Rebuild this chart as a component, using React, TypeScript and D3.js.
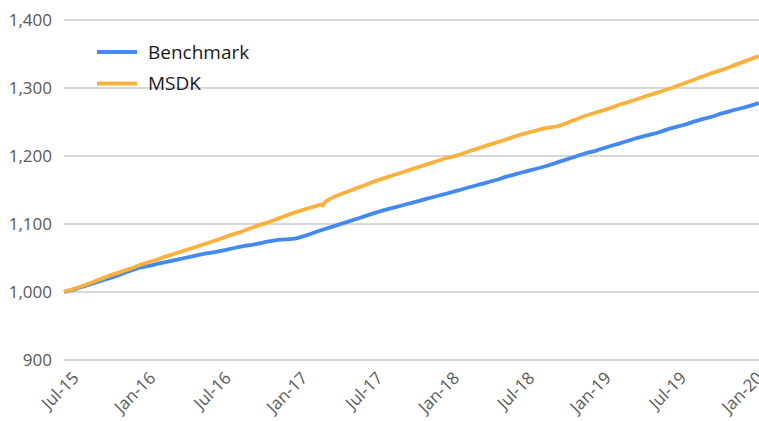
import * as d3 from "d3";

// monthly readings (first of month) plus a few extra points where the line kinks
const msdkDates = [
  "2015-07-01", "2015-08-01", "2015-09-01", "2015-10-01", "2015-11-01", "2015-12-01",
  "2016-01-01", "2016-02-01", "2016-03-01", "2016-04-01", "2016-05-01", "2016-06-01",
  "2016-07-01", "2016-08-01", "2016-09-01", "2016-10-01", "2016-11-01", "2016-12-01",
  "2017-01-01", "2017-02-01", "2017-03-01", "2017-03-10", "2017-03-14", "2017-03-18", "2017-03-24",
  "2017-04-01", "2017-05-01", "2017-06-01",
  "2017-07-01", "2017-08-01", "2017-09-01", "2017-10-01", "2017-11-01", "2017-12-01",
  "2018-01-01", "2018-02-01", "2018-03-01", "2018-04-01", "2018-05-01", "2018-06-01",
  "2018-07-01", "2018-08-01", "2018-09-01", "2018-09-24", "2018-10-01", "2018-11-01", "2018-12-01",
  "2019-01-01", "2019-02-01", "2019-03-01", "2019-04-01", "2019-05-01", "2019-06-01",
  "2019-07-01", "2019-08-01", "2019-09-01", "2019-10-01", "2019-11-01", "2019-12-01",
  "2020-01-01", "2020-01-27",
];
const msdkValues = [
  1000, 1006, 1013, 1020, 1027, 1033,
  1040, 1046, 1052, 1058, 1064, 1070,
  1076, 1083, 1089, 1096, 1102, 1109,
  1116, 1122, 1127, 1129, 1127, 1131, 1134,
  1137, 1145, 1152,
  1159, 1166, 1172, 1178, 1184, 1190,
  1196, 1201, 1207, 1213, 1219, 1225,
  1231, 1236, 1241, 1243, 1244, 1251, 1258,
  1264, 1270, 1276, 1282, 1288, 1294,
  1300, 1307, 1314, 1321, 1327, 1334,
  1341, 1347,
];

const benchDates = [
  "2015-07-01", "2015-08-01", "2015-09-01", "2015-10-01", "2015-11-01", "2015-12-01",
  "2016-01-01", "2016-02-01", "2016-03-01", "2016-04-01", "2016-05-01", "2016-06-01",
  "2016-07-01", "2016-08-01", "2016-09-01", "2016-10-01", "2016-11-01", "2016-12-01",
  "2017-01-01", "2017-02-01", "2017-03-01", "2017-04-01", "2017-05-01", "2017-06-01",
  "2017-07-01", "2017-08-01", "2017-09-01", "2017-10-01", "2017-11-01", "2017-12-01",
  "2018-01-01", "2018-02-01", "2018-03-01", "2018-04-01", "2018-05-01", "2018-06-01",
  "2018-07-01", "2018-08-01", "2018-09-01", "2018-10-01", "2018-11-01", "2018-12-01",
  "2019-01-01", "2019-02-01", "2019-03-01", "2019-04-01", "2019-05-01", "2019-06-01",
  "2019-07-01", "2019-08-01", "2019-09-01", "2019-10-01", "2019-11-01", "2019-12-01",
  "2020-01-01", "2020-01-27",
];
const benchValues = [
  1000, 1005, 1011, 1017, 1023, 1030,
  1036, 1040, 1044, 1048, 1052, 1056,
  1059, 1063, 1067, 1070, 1074, 1077,
  1078, 1083, 1089, 1095, 1101, 1107,
  1113, 1119, 1124, 1129, 1134, 1139,
  1144, 1149, 1154, 1159, 1164, 1170,
  1175, 1180, 1185, 1191, 1197, 1203,
  1208, 1214, 1219, 1225, 1230, 1235,
  1241, 1246, 1252, 1257, 1263, 1268,
  1273, 1278,
];

const yTicks = [900, 1000, 1100, 1200, 1300, 1400];
const xTickDates = [
  "2015-07-01", "2016-01-01", "2016-07-01", "2017-01-01", "2017-07-01",
  "2018-01-01", "2018-07-01", "2019-01-01", "2019-07-01", "2020-01-01",
];

const seriesNames = ["Benchmark", "MSDK"];
const seriesColors = ["#4389f2", "#fcb13e"];

const W = 759;
const H = 421;
const FONT = "'Open Sans', 'Noto Sans', sans-serif";

export default function App() {
  const parse = d3.utcParse("%Y-%m-%d");
  const x = d3
    .scaleUtc()
    .domain([parse("2015-07-01")!, parse("2020-01-01")!])
    .range([64, 748]);
  const y = d3.scaleLinear().domain([900, 1400]).range([360, 20]);
  const fmtY = d3.format(",");
  const fmtX = d3.utcFormat("%b-%y");

  const series = [
    benchDates.map((d, i) => ({ date: parse(d)!, value: benchValues[i] })),
    msdkDates.map((d, i) => ({ date: parse(d)!, value: msdkValues[i] })),
  ];

  const line = d3
    .line<{ date: Date; value: number }>()
    .x((d) => x(d.date))
    .y((d) => y(d.value))
    .curve(d3.curveMonotoneX);

  return (
    <svg
      width={W}
      height={H}
      style={{ position: "absolute", left: 0, top: 0, background: "#fff" }}
      fontFamily={FONT}
    >
      {yTicks.map((t) => (
        <g key={t}>
          <line x1={64} x2={W} y1={y(t)} y2={y(t)} stroke="#d9d9d9" strokeWidth={2} />
          <text
            x={52}
            y={y(t)}
            dy="0.35em"
            textAnchor="end"
            fontSize={17}
            fill="#595959"
          >
            {fmtY(t)}
          </text>
        </g>
      ))}
      {xTickDates.map((d) => {
        const px = x(parse(d)!);
        return (
          <text
            key={d}
            transform={`translate(${px + 16},${379}) rotate(-45)`}
            textAnchor="end"
            fontSize={17}
            fill="#595959"
          >
            {fmtX(parse(d)!)}
          </text>
        );
      })}
      {series.map((s, i) => (
        <path
          key={seriesNames[i]}
          d={line(s) ?? ""}
          fill="none"
          stroke={seriesColors[i]}
          strokeWidth={3.8}
          strokeLinejoin="round"
        />
      ))}
      {seriesNames.map((name, i) => (
        <g key={name} transform={`translate(97,${52 + i * 31.5})`}>
          <line x1={0} x2={40} y1={0} y2={0} stroke={seriesColors[i]} strokeWidth={4} />
          <text x={51} y={0} dy="0.35em" fontSize={19} fill="#1a1a1a">
            {name}
          </text>
        </g>
      ))}
    </svg>
  );
}
